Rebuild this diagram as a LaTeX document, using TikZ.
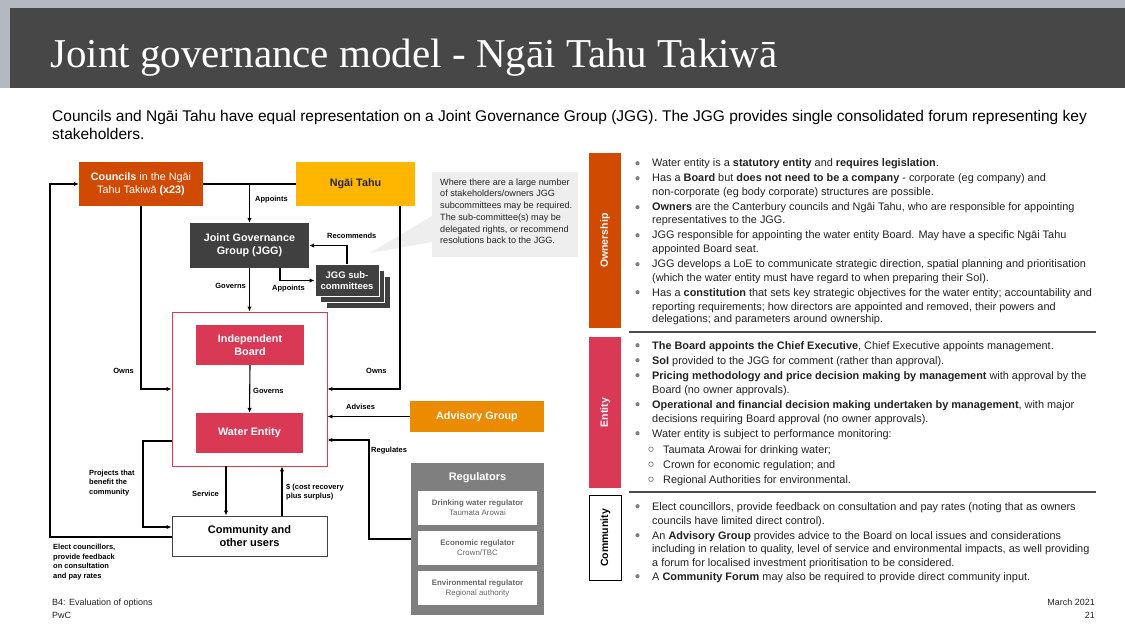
\documentclass[tikz,border=0pt]{standalone}
\usepackage{fontspec}
\setmainfont{Liberation Sans}
\newfontfamily\titlefont{Liberation Serif}
\usetikzlibrary{arrows.meta}
\definecolor{pwcorange}{HTML}{D04A02}
\definecolor{pwcyellow}{HTML}{FFB600}
\definecolor{pwcamber}{HTML}{EB8C00}
\definecolor{pwcrose}{HTML}{D93954}
\definecolor{hdr}{HTML}{474747}
\definecolor{jggc}{HTML}{404040}
\definecolor{reggray}{HTML}{7F7F7F}
\definecolor{calloutc}{HTML}{EEEEEE}
\definecolor{bandc}{HTML}{B4B8C0}
\definecolor{bodytext}{HTML}{222222}
\newcommand\bul[3]{\fill[black!50] (637.5,#2-3.8) circle (2.1); \node[txt] (#1) at (652,#2) {#3};}
\newcommand\cnt[3]{\node[txt] (#1) at (652,#2) {#3};}
\newcommand\subl[3]{\draw[black!50, line width=0.7] (651,#2-3.8) circle (2.3); \node[txt] (#1) at (663,#2) {#3};}
\begin{document}
\begin{tikzpicture}[x=1pt,y=-1pt,
  lbl/.style={font=\fontsize{7.5}{9.8}\selectfont\bfseries, align=left, inner sep=0, text=black},
  arr/.style={-{Latex[length=5pt,width=4.5pt]}, line width=1.1pt},
  ln/.style={line width=1.1pt},
  box/.style={inner sep=0, align=center, text=white, font=\fontsize{10.8}{13}\selectfont\bfseries},
  txt/.style={anchor=base west, inner sep=0, font=\fontsize{10.9}{12}\selectfont, text=bodytext},
  tab/.style={anchor=north west, inner sep=0, minimum width=32},
  tabtext/.style={rotate=90, font=\fontsize{10.5}{12}\selectfont\bfseries, inner sep=0},
  regsub/.style={fill=white, minimum width=119, minimum height=34, inner sep=0, align=center, text=black!60, font=\fontsize{7.9}{10}\selectfont},
]
\useasboundingbox (0,0) rectangle (1125,631);
\fill[white] (0,0) rectangle (1125,631);
% header
\fill[bandc] (0,0) rectangle (1125,8);
\fill[bandc] (0,0) rectangle (10,88);
\fill[hdr] (10,8) rectangle (1125,88);
\node[anchor=base west, inner sep=0, text=white, font=\titlefont\fontsize{41}{44}\selectfont] (title) at (50,68) {Joint governance model - Ngāi Tahu Takiwā};
\node[anchor=base west, inner sep=0, font=\fontsize{15.5}{18}\selectfont, align=left] (sub1) at (52,122) {Councils and Ngāi Tahu have equal representation on a Joint Governance Group (JGG). The JGG provides single consolidated forum representing key};
\node[anchor=base west, inner sep=0, font=\fontsize{15.5}{18}\selectfont] (sub2) at (52,140) {stakeholders.};

% ---------------- diagram ----------------
% callout
\fill[calloutc] (370,253) -- (432,216) -- (432,242) -- cycle;
\node[fill=calloutc, anchor=north west, minimum width=146, minimum height=85, inner sep=0] (call) at (432,172) {};
\node[anchor=north west, inner sep=0, align=left, text=bodytext, font=\fontsize{9.1}{11.7}\selectfont] (calltxt) at (440,178.5) {Where there are a large number\\of stakeholders/owners JGG\\subcommittees may be required.\\The sub-committee(s) may be\\delegated rights, or recommend\\resolutions back to the JGG.};

\node[box, fill=pwcorange, minimum width=124, minimum height=44, font=\fontsize{10.8}{13}\selectfont] (cou) at (141,184) {\textbf{Councils} in the Ngāi\\Tahu Takiwā \textbf{(x23)}};
\node[box, fill=pwcyellow, text=black!85, minimum width=119, minimum height=44] (nt) at (355.5,184) {Ngāi Tahu};
\node[box, fill=jggc, minimum width=119, minimum height=45] (jgg) at (249.5,245.5) {Joint Governance\\Group (JGG)};
% sub-committees stack
\node[fill=jggc, draw=white, line width=1, minimum width=64, minimum height=31, inner sep=0] (subs2) at (358,292.5) {};
\node[fill=jggc, draw=white, line width=1, minimum width=64, minimum height=31, inner sep=0] (subs1) at (352.5,286.5) {};
\node[box, fill=jggc, draw=white, line width=1, minimum width=64, minimum height=31, font=\fontsize{9.5}{11.5}\selectfont\bfseries] (subs) at (347,280.5) {JGG sub-\\committees};

\node[draw=pwcrose, line width=0.9, minimum width=155, minimum height=154, inner sep=0] (outer) at (249.5,389) {};
\node[box, fill=pwcrose, minimum width=108, minimum height=40] (board) at (250,345) {Independent\\Board};
\node[box, fill=pwcrose, minimum width=107, minimum height=40] (we) at (249.5,433) {Water Entity};
\node[box, fill=pwcamber, minimum width=134, minimum height=31] (adv) at (477,416.5) {Advisory Group};
\node[fill=reggray, minimum width=133, minimum height=152, inner sep=0] (reg) at (477.5,539) {};
\node[anchor=base, inner sep=0, text=white, font=\fontsize{11}{12}\selectfont\bfseries] (regt) at (477.5,480) {Regulators};
\node[regsub] (r1) at (477.5,508) {\textbf{Drinking water regulator}\\Taumata Arowai};
\node[regsub] (r2) at (477.5,548) {\textbf{Economic regulator}\\Crown/TBC};
\node[regsub] (r3) at (477.5,588) {\textbf{Environmental regulator}\\Regional authority};
\node[draw=black!75, line width=1, fill=white, minimum width=155, minimum height=40, inner sep=0, align=center, font=\fontsize{11}{13}\selectfont\bfseries] (com) at (249.5,536) {Community and\\other users};

% helper coordinates
\coordinate (ap) at (jgg.north |- cou.east);
\coordinate (jx) at (280,0);
\coordinate (nx) at (400,0);
\coordinate (rA) at (369,539);
\coordinate (rB) at (369,440);
\coordinate (sx) at (226,0);
\coordinate (dx) at (282,0);
\coordinate (pA) at (143,441);
\coordinate (pB) at (143,527);
\coordinate (eA) at (50,537);

% connectors
\draw[ln] (cou.east) -- (nt.west);
\draw[arr] (ap) -- (jgg.north);
\draw[arr] (subs.north) |- (jgg.east);
\draw[arr] (jgg.south -| jx) |- (subs.west);
\draw[arr] (jgg.south) -- (outer.north);
\draw[arr] (board.south) -- (we.north);
\draw[arr] (cou.south) |- (outer.west);
\draw[arr] (nt.south -| nx) |- (outer.east);
\draw[arr] (adv.west) -- (adv.west -| outer.east);
\draw[arr] (reg.west |- rA) -- (rA) -- (rB) -- (rB -| outer.east);
\draw[arr] (outer.south -| sx) -- (com.north -| sx);
\draw[arr] (com.north -| dx) -- (outer.south -| dx);
\draw[arr] (pA -| outer.west) -- (pA) -- (pB) -- (pB -| com.west);
\draw[arr] (eA -| com.west) -- (eA) |- (cou.west);

% labels
\node[lbl, anchor=west] (l1) at (255,200) {Appoints};
\node[lbl, anchor=west] (l2) at (327,236) {Recommends};
\node[lbl, anchor=east] (l3) at (246,286) {Governs};
\node[lbl, anchor=west] (l4) at (272,289) {Appoints};
\node[lbl, anchor=east] (l5) at (134,371) {Owns};
\node[lbl, anchor=west] (l6) at (366,371) {Owns};
\node[lbl, anchor=west] (l7) at (253,391) {Governs};
\node[lbl, anchor=west] (l8) at (346,407) {Advises};
\node[lbl, anchor=west] (l9) at (371,451) {Regulates};
\node[lbl, anchor=west] (l10) at (192,494) {Service};
\node[lbl, anchor=west] (l11) at (286,492) {\$ (cost recovery\\plus surplus)};
\node[lbl, anchor=west] (l12) at (89,483) {Projects that\\benefit the\\community};
\node[lbl, anchor=west] (l13) at (53,562) {Elect councillors,\\provide feedback\\on consultation\\and pay rates};

% ---------------- right side ----------------
\node[tab, fill=pwcorange, minimum height=175] (own) at (589,153) {};
\node[tabtext, text=white] (ownt) at (own.center) {Ownership};
\node[tab, fill=pwcrose, minimum height=151] (ent) at (589,337) {};
\node[tabtext, text=white] (entt) at (ent.center) {Entity};
\node[tab, draw=black, line width=1, fill=white, minimum height=85] (cmt) at (589,495) {};
\node[tabtext, text=black] (cmtt) at (cmt.center) {Community};
\draw[line width=2.5, black!70] (629,332) -- (1096,332);
\draw[line width=2.5, black!70] (629,492) -- (1096,492);

\bul{o1}{167}{Water entity is a \textbf{statutory entity} and \textbf{requires legislation}.}
\bul{o2}{182}{Has a \textbf{Board} but \textbf{does not need to be a company} - corporate (eg company) and}
\cnt{o3}{196}{non-corporate (eg body corporate) structures are possible.}
\bul{o4}{211}{\textbf{Owners} are the Canterbury councils and Ngāi Tahu, who are responsible for appointing}
\cnt{o5}{224}{representatives to the JGG.}
\bul{o6}{239}{JGG responsible for appointing the water entity Board. May have a specific Ngāi Tahu}
\cnt{o7}{253}{appointed Board seat.}
\bul{o8}{268}{JGG develops a LoE to communicate strategic direction, spatial planning and prioritisation}
\cnt{o9}{281}{(which the water entity must have regard to when preparing their SoI).}
\bul{o10}{296}{Has a \textbf{constitution} that sets key strategic objectives for the water entity; accountability and}
\cnt{o11}{310}{reporting requirements; how directors are appointed and removed, their powers and}
\cnt{o12}{323}{delegations; and parameters around ownership.}

\bul{e1}{349}{\textbf{The Board appoints the Chief Executive}, Chief Executive appoints management.}
\bul{e2}{364}{\textbf{SoI} provided to the JGG for comment (rather than approval).}
\bul{e3}{379}{\textbf{Pricing methodology and price decision making by management} with approval by the}
\cnt{e4}{393}{Board (no owner approvals).}
\bul{e5}{408}{\textbf{Operational and financial decision making undertaken by management}, with major}
\cnt{e6}{422}{decisions requiring Board approval (no owner approvals).}
\bul{e7}{437}{Water entity is subject to performance monitoring:}
\subl{e8}{453}{Taumata Arowai for drinking water;}
\subl{e9}{468}{Crown for economic regulation; and}
\subl{e10}{483}{Regional Authorities for environmental.}

\bul{c1}{510}{Elect councillors, provide feedback on consultation and pay rates (noting that as owners}
\cnt{c2}{524}{councils have limited direct control).}
\bul{c3}{539}{An \textbf{Advisory Group} provides advice to the Board on local issues and considerations}
\cnt{c4}{552}{including in relation to quality, level of service and environmental impacts, as well providing}
\cnt{c5}{566}{a forum for localised investment prioritisation to be considered.}
\bul{c6}{580}{A \textbf{Community Forum} may also be required to provide direct community input.}

% footer
\node[anchor=base west, inner sep=0, font=\fontsize{9}{10}\selectfont, text=bodytext] (f1) at (52,605) {B4: Evaluation of options};
\node[anchor=base west, inner sep=0, font=\fontsize{9}{10}\selectfont, text=bodytext] (f2) at (52,618) {PwC};
\node[anchor=base east, inner sep=0, font=\fontsize{9}{10}\selectfont, text=bodytext] (f3) at (1095,605) {March 2021};
\node[anchor=base east, inner sep=0, font=\fontsize{9}{10}\selectfont, text=bodytext] (f4) at (1095,618) {21};
\end{tikzpicture}
\end{document}
